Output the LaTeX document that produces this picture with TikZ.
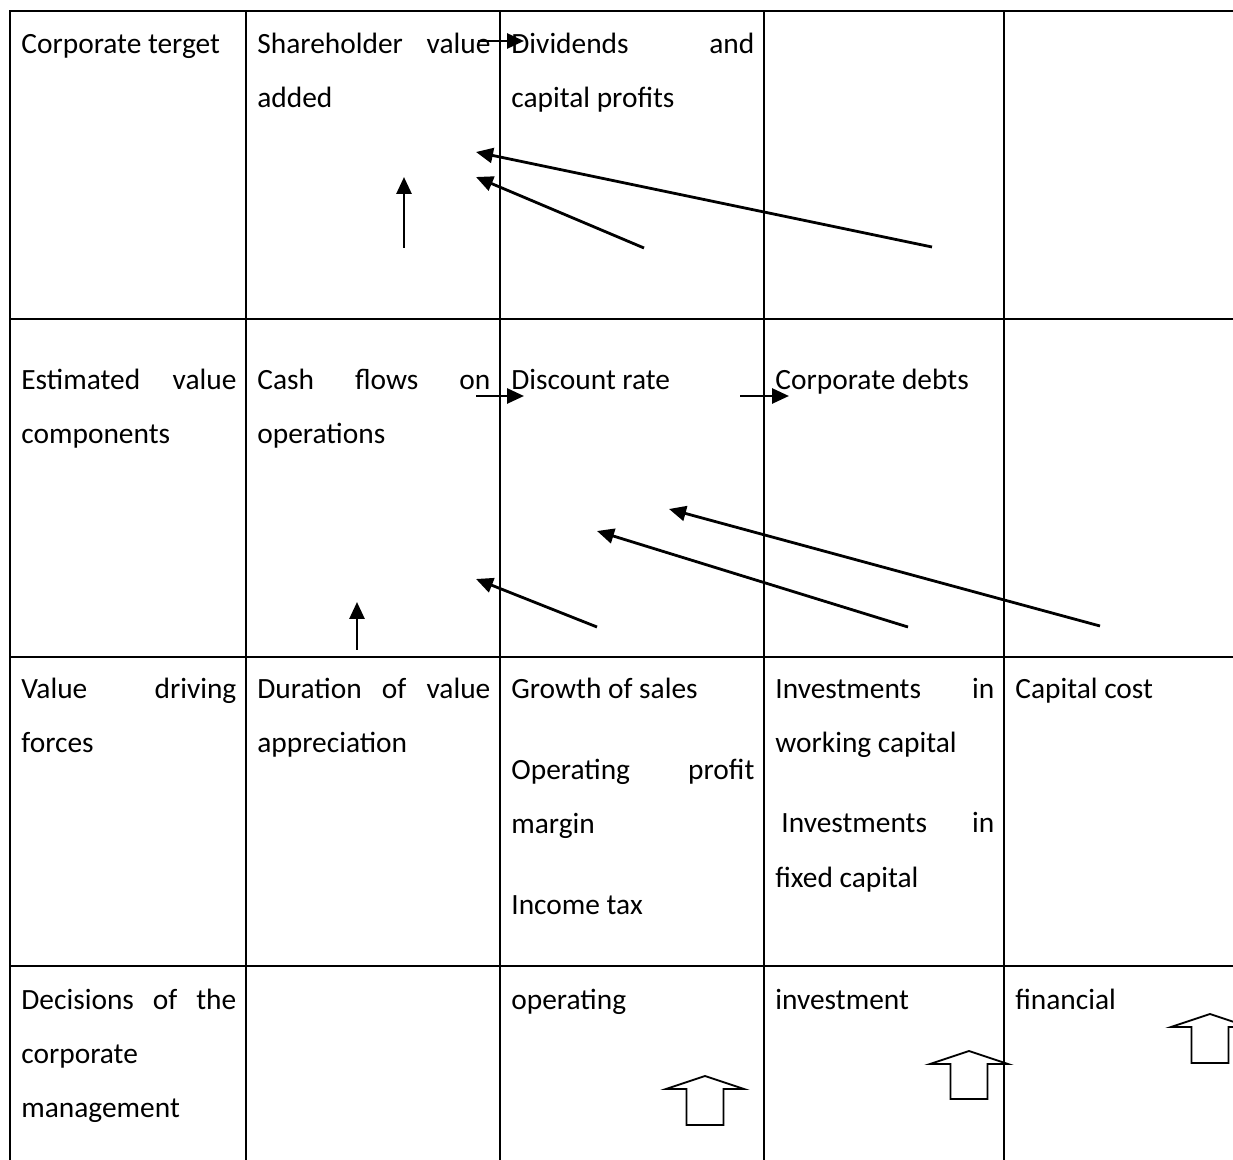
\documentclass[tikz,border=0pt]{standalone}
\usepackage{fontspec}
\setmainfont{Carlito}
\usetikzlibrary{arrows.meta}
% one line of text spread over a given width
\newcommand{\spread}[2]{\hbox to #1{#2}}
% hollow block arrow pointing up: centre x, apex y, bottom y
\newcommand{\upblock}[3]{%
  \draw[hollow] (#1-18.5,#3) -- (#1-18.5,#2+13) -- (#1-39,#2+13) -- (#1,#2)
    -- (#1+39,#2+13) -- (#1+18.5,#2+13) -- (#1+18.5,#3) -- cycle;}
\begin{document}
\begin{tikzpicture}[x=0.5pt,y=-0.5pt,
  grid/.style={line width=1.4pt},
  cell/.style={anchor=base west,inner sep=0pt,font=\fontsize{14.7}{17}\selectfont},
  link/.style={line width=1.4pt,-{Triangle[length=8.5pt,width=7.5pt]}},
  hollow/.style={line width=0.9pt,line join=miter}]
\useasboundingbox (0,0) rectangle (1233,1160);

% table rules
\draw[grid] (10,1160) -- (10,11) -- (1233,11);
\foreach \x in {246,500,764,1004} \draw[grid] (\x,11) -- (\x,1160);
\foreach \y in {319,657,966} \draw[grid] (10,\y) -- (1233,\y);

% row 1
\node[cell] (r1c1) at (21,54) {Corporate terget};
\node[cell] (r1c2a) at (257,54) {\spread{116.5pt}{Shareholder\hfill value}};
\node[cell] (r1c2b) at (257,108) {added};
\node[cell] (r1c3a) at (511,54) {\spread{121.5pt}{Dividends\hfill and}};
\node[cell] (r1c3b) at (511,108) {capital profits};

% row 2
\node[cell] (r2c1a) at (21,390) {\spread{107.5pt}{Estimated\hfill value}};
\node[cell] (r2c1b) at (21,444) {components};
\node[cell] (r2c2a) at (257,390) {\spread{116.5pt}{Cash\hfill flows\hfill on}};
\node[cell] (r2c2b) at (257,444) {operations};
\node[cell] (r2c3) at (511,390) {Discount rate};
\node[cell] (r2c4) at (775,390) {Corporate debts};

% row 3
\node[cell] (r3c1a) at (21,699) {\spread{107.5pt}{Value\hfill driving}};
\node[cell] (r3c1b) at (21,753) {forces};
\node[cell] (r3c2a) at (257,699) {\spread{116.5pt}{Duration\hfill of\hfill value}};
\node[cell] (r3c2b) at (257,753) {appreciation};
\node[cell] (r3c3a) at (511,699) {Growth of sales};
\node[cell] (r3c3b) at (511,780) {\spread{121.5pt}{Operating\hfill profit}};
\node[cell] (r3c3c) at (511,834) {margin};
\node[cell] (r3c3d) at (511,914) {Income tax};
\node[cell] (r3c4a) at (775,699) {\spread{109.5pt}{Investments\hfill in}};
\node[cell] (r3c4b) at (775,753) {working capital};
\node[cell] (r3c4c) at (781,833) {\spread{106.5pt}{Investments\hfill in}};
\node[cell] (r3c4d) at (775,887) {fixed capital};
\node[cell] (r3c5) at (1015,699) {Capital cost};

% row 4
\node[cell] (r4c1a) at (21,1009) {\spread{107.5pt}{Decisions\hfill of\hfill the}};
\node[cell] (r4c1b) at (21,1063) {corporate};
\node[cell] (r4c1c) at (21,1117) {management};
\node[cell] (r4c3) at (511,1009) {operating};
\node[cell] (r4c4) at (775,1009) {investment};
\node[cell] (r4c5) at (1015,1009) {financial};

% arrow end points
\coordinate (a1s) at (478,41);   \coordinate (a1e) at (524,41);
\coordinate (a2s) at (404,248);  \coordinate (a2e) at (404,177);
\coordinate (a3s) at (932,247);  \coordinate (a3e) at (476,152);
\coordinate (a4s) at (644,248);  \coordinate (a4e) at (476,177);
\coordinate (a5s) at (476,396);  \coordinate (a5e) at (524,396);
\coordinate (a6s) at (740,396);  \coordinate (a6e) at (789,396);
\coordinate (a7s) at (357,650);  \coordinate (a7e) at (357,602);
\coordinate (a8s) at (597,627);  \coordinate (a8e) at (476,579);
\coordinate (a9s) at (908,627);  \coordinate (a9e) at (597,531);
\coordinate (a10s) at (1100,626); \coordinate (a10e) at (669,509);

\foreach \i in {1,...,10} \draw[link] (a\i s) -- (a\i e);

% decision arrows
\upblock{705}{1076}{1125}
\upblock{969}{1051}{1099}
\upblock{1210}{1014}{1063}
\end{tikzpicture}
\end{document}
